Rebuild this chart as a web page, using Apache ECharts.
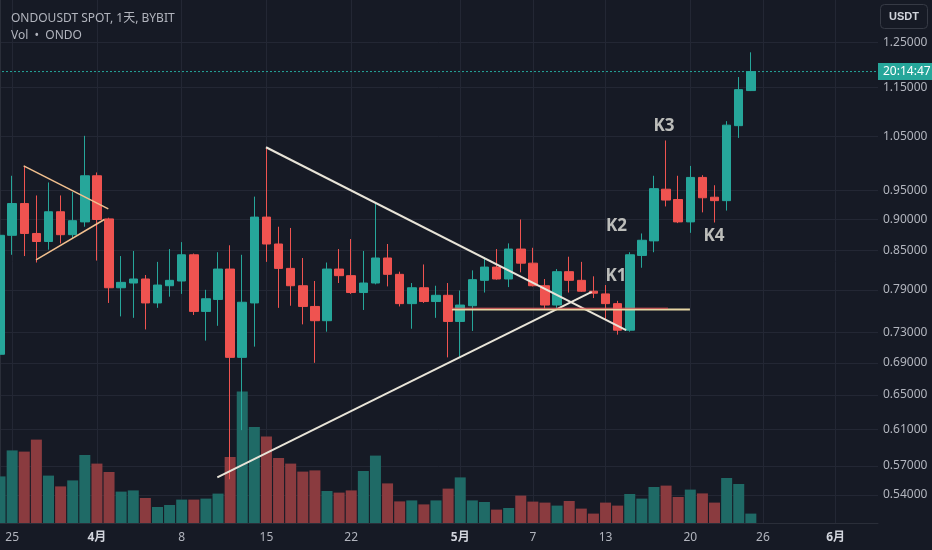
<!DOCTYPE html>
<html>
<head>
<meta charset="utf-8">
<script src="https://cdn.jsdelivr.net/npm/echarts@6/dist/echarts.min.js"></script>
<style>
html, body { margin: 0; padding: 0; background: #161a25; }
#chart { width: 932px; height: 550px; }
</style>
</head>
<body>
<div id="chart"></div>
<script>
// daily candles, 2024-03-24 .. 2024-05-25, axis runs on to 2024-06-04
const firstDay = '2024-03-24';
const dayCount = 73;

const opens = [0.701, 0.874, 0.927, 0.877, 0.864, 0.913, 0.875, 0.896, 0.976, 0.901,
  0.793, 0.800, 0.806, 0.771, 0.796, 0.803, 0.843, 0.759, 0.776, 0.821,
  0.697, 0.771, 0.904, 0.860, 0.822, 0.796, 0.766, 0.746, 0.821, 0.811,
  0.786, 0.800, 0.838, 0.813, 0.770, 0.793, 0.773, 0.782, 0.745, 0.767,
  0.804, 0.824, 0.806, 0.852, 0.830, 0.796, 0.768, 0.817, 0.804, 0.788,
  0.784, 0.770, 0.733, 0.842, 0.865, 0.952, 0.934, 0.896, 0.973, 0.938,
  0.932, 1.071, 1.143];
const closes = [0.874, 0.927, 0.877, 0.864, 0.913, 0.875, 0.898, 0.976, 0.900, 0.793,
  0.801, 0.806, 0.771, 0.797, 0.804, 0.843, 0.759, 0.777, 0.821, 0.697,
  0.772, 0.904, 0.860, 0.822, 0.796, 0.766, 0.746, 0.821, 0.811, 0.786,
  0.800, 0.838, 0.813, 0.770, 0.793, 0.773, 0.782, 0.745, 0.768, 0.805,
  0.824, 0.806, 0.852, 0.830, 0.796, 0.768, 0.817, 0.804, 0.788, 0.785,
  0.770, 0.733, 0.843, 0.866, 0.953, 0.933, 0.896, 0.973, 0.937, 0.932,
  1.072, 1.145, 1.184];
const lows = [0.690, 0.843, 0.841, 0.831, 0.851, 0.861, 0.869, 0.888, 0.834, 0.771,
  0.752, 0.750, 0.734, 0.764, 0.780, 0.784, 0.754, 0.719, 0.739, 0.556,
  0.609, 0.711, 0.832, 0.764, 0.767, 0.741, 0.690, 0.731, 0.800, 0.784,
  0.761, 0.798, 0.795, 0.766, 0.735, 0.771, 0.750, 0.697, 0.696, 0.732,
  0.786, 0.805, 0.794, 0.816, 0.795, 0.761, 0.763, 0.786, 0.787, 0.778,
  0.748, 0.727, 0.731, 0.823, 0.847, 0.922, 0.894, 0.878, 0.912, 0.895,
  0.915, 1.047, 1.142];
const highs = [0.882, 0.976, 0.994, 0.941, 0.964, 0.941, 0.947, 1.051, 0.982, 0.903,
  0.841, 0.849, 0.812, 0.832, 0.852, 0.863, 0.845, 0.790, 0.847, 0.858,
  0.843, 0.939, 1.029, 0.888, 0.886, 0.838, 0.803, 0.831, 0.852, 0.868,
  0.849, 0.927, 0.860, 0.817, 0.800, 0.828, 0.796, 0.800, 0.789, 0.819,
  0.839, 0.852, 0.861, 0.900, 0.854, 0.806, 0.821, 0.840, 0.832, 0.810,
  0.797, 0.774, 0.847, 0.877, 0.976, 1.042, 0.976, 0.994, 0.977, 0.959,
  1.080, 1.172, 1.227];
// volume, millions ONDO
const volumes = [23.3, 36.3, 35.7, 41.7, 23.7, 18.3, 21.3, 34.0, 29.7, 25.5,
  15.7, 16.3, 12.5, 8.0, 9.0, 11.7, 11.7, 12.2, 14.7, 33.0,
  65.7, 48.0, 43.3, 32.5, 29.7, 25.7, 26.3, 16.0, 15.2, 16.3,
  26.0, 33.7, 19.8, 10.8, 11.3, 9.3, 11.3, 17.2, 22.8, 11.3,
  10.5, 6.7, 7.5, 13.7, 10.7, 10.2, 8.7, 11.0, 7.2, 4.7,
  10.2, 8.7, 14.5, 12.2, 18.0, 18.7, 13.0, 16.7, 14.8, 10.2,
  22.5, 19.5, 4.7];

const priceTicks = [0.54, 0.57, 0.61, 0.65, 0.69, 0.73, 0.79, 0.85, 0.90, 0.95, 1.05, 1.15, 1.25];
const dayTickIdx = [1, 8, 15, 22, 29, 38, 44, 50, 57, 63, 69];
const dayTickText = ['25', '4月', '8', '15', '22', '5月', '7', '13', '20', '26', '6月'];

// drawings: [day index, price]
const triUpper = [[1.95, 0.994], [8.94, 0.918]];
const triLower = [[2.97, 0.835], [8.61, 0.900]];
const fallLine = [[21.96, 1.029], [51.7, 0.733]];
const riseLine = [[17.94, 0.558], [48.86, 0.787]];
const redLevel = [[37.32, 0.7635], [55.16, 0.7635]];
const creamLevel = [[37.32, 0.7618], [56.97, 0.7618]];
const kNames = ['K1', 'K2', 'K3', 'K4'];
const kPos = [[50.86, 0.8095], [50.9, 0.8892], [54.83, 1.0703], [58.96, 0.8729]];

const countdown = '20:14:47';

const dates = [];
const d0 = new Date(firstDay + 'T00:00:00Z');
for (let i = 0; i < dayCount; i++) {
  const d = new Date(d0.getTime() + i * 86400000);
  dates.push(d.toISOString().slice(0, 10));
}

const up = '#26a69a', down = '#ef5350';
const volUp = '#1f6a66', volDown = '#8a3b3f';
const gridColor = '#232734';
const textColor = '#b2b5be';

const candleData = opens.map((o, i) => [o, closes[i], lows[i], highs[i]]);
const volData = volumes.map((v, i) => ({
  value: v,
  itemStyle: { color: closes[i] >= opens[i] ? volUp : volDown }
}));
const lastClose = closes[closes.length - 1];

function drawLine(data, color, width) {
  return {
    type: 'line',
    xAxisIndex: 2,
    yAxisIndex: 0,
    data: data,
    showSymbol: false,
    silent: true,
    z: 5,
    lineStyle: { color: color, width: width }
  };
}

// last price line across the pane, countdown tag at its right end
const priceLine = drawLine([[-0.5, lastClose], [dayCount - 0.5, lastClose]], up, 1);
priceLine.z = 2;
priceLine.lineStyle.type = [2, 2];
priceLine.endLabel = {
  show: true, distance: 0,
  formatter: countdown,
  backgroundColor: up, color: '#ffffff', fontSize: 12,
  padding: [3, 5, 2, 5]
};

const chart = echarts.init(document.getElementById('chart'));

chart.setOption({
  backgroundColor: '#161a25',
  animation: false,
  textStyle: { fontFamily: "'Noto Sans', 'Noto Sans CJK SC', sans-serif" },
  title: [
    { text: 'ONDOUSDT SPOT, 1天, BYBIT', left: 6, top: 8,
      textStyle: { fontSize: 12, fontWeight: 'normal', color: textColor } },
    { text: 'Vol  •  ONDO', left: 6, top: 25,
      textStyle: { fontSize: 12, fontWeight: 'normal', color: textColor } }
  ],
  graphic: [{
    type: 'group',
    left: 880,
    top: 4,
    children: [
      { type: 'rect', shape: { x: 0, y: 0, width: 47, height: 24, r: 4 },
        style: { fill: 'transparent', stroke: '#363a45', lineWidth: 1 } },
      { type: 'text', x: 23.5, y: 12,
        style: { text: 'USDT', fill: '#d1d4dc', fontSize: 11, fontWeight: 'bold',
          align: 'center', verticalAlign: 'middle' } }
    ]
  }],
  grid: [
    { left: -6, right: 54, top: 0, bottom: 27, outerBoundsMode: 'none', containLabel: false },
    { left: -6, right: 54, top: 373, bottom: 27, outerBoundsMode: 'none', containLabel: false }
  ],
  xAxis: [
    { type: 'category', gridIndex: 0, data: dates, show: false },
    { type: 'category', gridIndex: 1, data: dates, show: false },
    {
      type: 'value', gridIndex: 0, min: -0.5, max: dayCount - 0.5, position: 'bottom',
      axisLine: { show: true, lineStyle: { color: '#2a2e39' } },
      axisTick: { show: false, customValues: dayTickIdx },
      axisLabel: {
        customValues: dayTickIdx,
        color: textColor, fontSize: 12, margin: 9,
        formatter: v => {
          const t = dayTickText[dayTickIdx.indexOf(Math.round(v))] || '';
          return t.indexOf('月') >= 0 ? '{m|' + t + '}' : t;
        },
        rich: { m: { fontWeight: 'bold', color: '#d1d4dc', fontSize: 12 } }
      },
      splitLine: { show: true, lineStyle: { color: gridColor } }
    }
  ],
  yAxis: [
    {
      type: 'log', gridIndex: 0, position: 'right', min: 0.5127, max: 1.352,
      axisLine: { show: true, lineStyle: { color: '#2a2e39' } },
      axisTick: { show: false, customValues: priceTicks },
      axisLabel: {
        customValues: priceTicks,
        color: textColor, fontSize: 12, margin: 5,
        formatter: v => Number(v).toFixed(5)
      },
      splitLine: { show: true, lineStyle: { color: gridColor } }
    },
    { type: 'value', gridIndex: 1, min: 0, max: 75, show: false, splitLine: { show: false } }
  ],
  series: [
    {
      name: 'Vol',
      type: 'bar',
      xAxisIndex: 1,
      yAxisIndex: 1,
      data: volData,
      barWidth: 11,
      silent: true,
      z: 1
    },
    {
      name: 'ONDOUSDT',
      type: 'candlestick',
      xAxisIndex: 0,
      yAxisIndex: 0,
      data: candleData,
      barWidth: 9,
      z: 3,
      itemStyle: {
        color: up, color0: down,
        borderColor: up, borderColor0: down,
        borderWidth: 1
      }
    },
    priceLine,
    drawLine(triUpper, '#f2c08f', 1.5),
    drawLine(triLower, '#f2c08f', 1.5),
    drawLine(fallLine, '#e8e4d8', 2),
    drawLine(riseLine, '#e8e4d8', 2),
    drawLine(creamLevel, '#e6d6a4', 2),
    drawLine(redLevel, '#e0575a', 1),
    {
      type: 'scatter',
      xAxisIndex: 2,
      yAxisIndex: 0,
      silent: true,
      z: 6,
      symbolSize: 1,
      itemStyle: { color: 'transparent' },
      data: kPos.map((p, i) => ({ name: kNames[i], value: p })),
      label: {
        show: true, position: 'inside', formatter: '{b}',
        color: '#e6e6e0', fontSize: 17, fontWeight: 'bold'
      }
    }
  ]
});
</script>
</body>
</html>
